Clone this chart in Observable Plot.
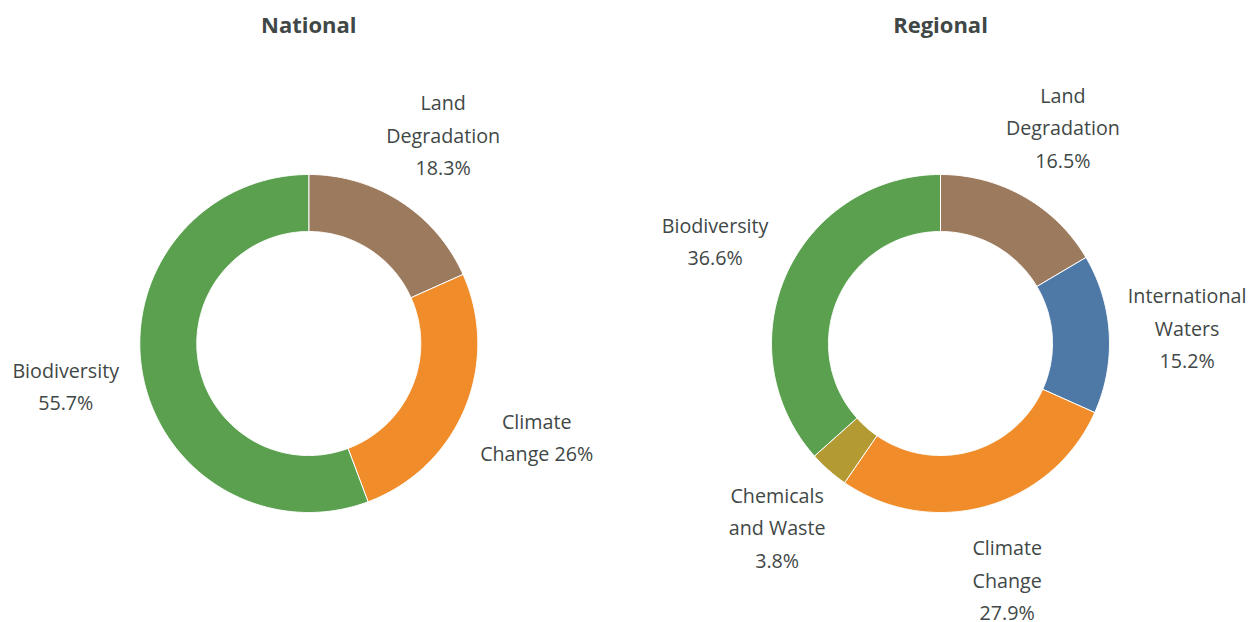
<!DOCTYPE html>
<html><head><meta charset="utf-8">
<script src="https://cdn.jsdelivr.net/npm/d3@7"></script>
<script src="https://cdn.jsdelivr.net/npm/@observablehq/plot@0.6"></script>
<style>body{margin:0;background:#fff} #wrap{display:flex;width:1250px}</style>
</head><body><div id="wrap"></div>
<script>
// ---- data ----
const titles = ["National", "Regional"];
const nationalCategories = ["Land Degradation", "Climate Change", "Biodiversity"];
const nationalValues = [18.3, 26, 55.7];
const nationalLabels = ["Land\nDegradation\n18.3%", "Climate\nChange 26%", "Biodiversity\n55.7%"];
const regionalCategories = ["Land Degradation", "International Waters", "Climate Change", "Chemicals and Waste", "Biodiversity"];
const regionalValues = [16.5, 15.2, 27.9, 3.8, 36.6];
const regionalLabels = ["Land\nDegradation\n16.5%", "International\nWaters\n15.2%", "Climate\nChange\n27.9%", "Chemicals\nand Waste\n3.8%", "Biodiversity\n36.6%"];
const colorDomain = ["Land Degradation", "International Waters", "Climate Change", "Chemicals and Waste", "Biodiversity"];
const colorRange = ["#9c7a5e", "#4e79a7", "#f08d2a", "#b39a32", "#5aa04f"];

// ---- layout ----
const W = 625, H = 622, CY = 343, R = 169, INNER = 112 / 169, LABEL_R = 247 / 169;
const TEXT = "#3f4846";
const FONT = "'Open Sans', sans-serif";

function build(title, categories, values, labels, cx) {
  const arcs = d3.pie().sort(null).value(d => d)(values);
  const ring = [];
  const labelRows = [];
  arcs.forEach((a, i) => {
    const key = categories[i];
    const n = Math.max(2, Math.ceil((a.endAngle - a.startAngle) / 0.01));
    const ts = d3.range(n + 1).map(k => a.startAngle + (a.endAngle - a.startAngle) * k / n);
    ts.forEach(t => ring.push({key, x: Math.sin(t), y: Math.cos(t)}));
    ts.slice().reverse().forEach(t => ring.push({key, x: INNER * Math.sin(t), y: INNER * Math.cos(t)}));
    ring.push({key, x: Math.sin(ts[0]), y: Math.cos(ts[0])});
    const m = (a.startAngle + a.endAngle) / 2;
    labelRows.push({text: labels[i], x: LABEL_R * Math.sin(m), y: LABEL_R * Math.cos(m)});
  });
  return Plot.plot({
    width: W, height: H,
    marginTop: 0, marginBottom: 0, marginLeft: 0, marginRight: 0,
    x: {domain: [-cx / R, (W - cx) / R], axis: null},
    y: {domain: [-(H - CY) / R, CY / R], axis: null},
    color: {domain: colorDomain, range: colorRange},
    style: {fontFamily: FONT, background: "white"},
    marks: [
      Plot.line(ring, {x: "x", y: "y", z: "key", fill: "key", stroke: "white", strokeWidth: 1, curve: "linear"}),
      Plot.text(labelRows, {x: "x", y: "y", text: "text", dy: -4, fontSize: 19.7, lineHeight: 1.65, fill: TEXT, textAnchor: "middle", lineAnchor: "middle"}),
      Plot.text([title], {x: 0, frameAnchor: "top", dy: 25, lineAnchor: "middle", text: d => d, fontSize: 22, fontWeight: "bold", fill: TEXT})
    ]
  });
}

const wrap = document.getElementById("wrap");
wrap.appendChild(build(titles[0], nationalCategories, nationalValues, nationalLabels, 308.3));
wrap.appendChild(build(titles[1], regionalCategories, regionalValues, regionalLabels, 940 - 625));
</script></body></html>
